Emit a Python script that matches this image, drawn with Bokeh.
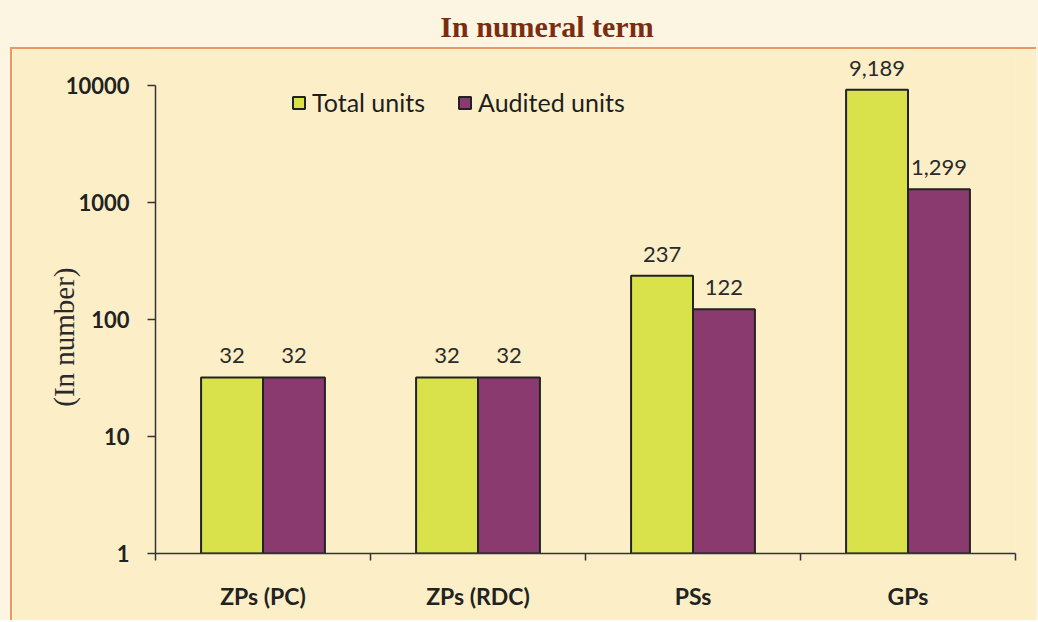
from bokeh.plotting import figure
from bokeh.layouts import column
from bokeh.models import (Range1d, FixedTicker, ColumnDataSource, LabelSet, Legend, LegendItem,
                          NumeralTickFormatter, Div)
from bokeh.core.properties import value
from bokeh.transform import dodge
from bokeh.embed import file_html
from bokeh.resources import INLINE

# ---- data ----
categories = ["ZPs (PC)", "ZPs (RDC)", "PSs", "GPs"]
total_units = [32, 32, 237, 9189]
audited_units = [32, 32, 122, 1299]
y_ticks = [1, 10, 100, 1000, 10000]
title_text = "In numeral term"
y_label = "(In number)"

GREEN = "#D9E14B"
PURPLE = "#8B3A70"
PAGE = "#FBF5E2"
BOX = "#FCEFC8"
ORANGE = "#EE9660"

xs = [i + 0.5 for i in range(len(categories))]
src = ColumnDataSource(dict(
    x=xs,
    total=total_units,
    audited=audited_units,
    total_lbl=[f"{v:,}" for v in total_units],
    audited_lbl=[f"{v:,}" for v in audited_units],
))

TOTAL_W, TOTAL_H = 1038, 622
HEAD_H = 47
LEFT_M = 10
PW = TOTAL_W - LEFT_M - 2
PH = TOTAL_H - HEAD_H - 2

header = Div(
    text=(f'<div style="width:{TOTAL_W}px;height:{HEAD_H}px;box-sizing:border-box;padding-left:56px;'
          f'padding-top:12px;text-align:center;line-height:30px;font-family:\'Liberation Serif\';'
          f'font-weight:bold;font-size:30px;color:#7A2D10;">{title_text}</div>'),
    width=TOTAL_W, height=HEAD_H, styles={"background-color": PAGE}, margin=0)

# frame: top at page y 55, 10000 at page y 85, value 1 at page y 553
p = figure(width=PW, height=PH, output_backend="svg", toolbar_location=None,
           x_range=Range1d(0, len(categories)), y_range=Range1d(1, 10 ** 4.256),
           y_axis_type="log",
           min_border_left=155 - LEFT_M - 2, min_border_right=(LEFT_M + 2 + PW) - 1015,
           min_border_top=55 - HEAD_H - 2, min_border_bottom=(HEAD_H + 2 + PH) - 553)

p.border_fill_color = BOX
p.background_fill_color = BOX
p.outline_line_color = None
p.xgrid.visible = False
p.ygrid.visible = False
p.margin = (0, 0, 0, LEFT_M)
p.styles = {"border-top": f"2px solid {ORANGE}", "border-left": f"2px solid {ORANGE}"}

bw = 0.288
r1 = p.vbar(x=dodge("x", -bw / 2, range=p.x_range), top="total", bottom=1, width=bw, source=src,
            fill_color=GREEN, line_color="#222222", line_width=2)
r2 = p.vbar(x=dodge("x", bw / 2, range=p.x_range), top="audited", bottom=1, width=bw, source=src,
            fill_color=PURPLE, line_color="#222222", line_width=2)

lab_kw = dict(text_font=value("Lato"), text_font_size="22px", text_color="#2A2A2A",
              text_align="center", text_baseline="bottom", y_offset=14)
p.add_layout(LabelSet(x=dodge("x", -bw / 2, range=p.x_range), y="total", text="total_lbl",
                      source=src, **lab_kw))
p.add_layout(LabelSet(x=dodge("x", bw / 2, range=p.x_range), y="audited", text="audited_lbl",
                      source=src, **lab_kw))

# axes
xa = p.xaxis[0]
xa.ticker = FixedTicker(ticks=xs, minor_ticks=list(range(len(categories) + 1)))
xa.major_label_overrides = {x: c for x, c in zip(xs, categories)}
xa.major_tick_line_color = None
xa.minor_tick_line_color = "#333333"
xa.minor_tick_line_width = 1.5
xa.minor_tick_out = 7
xa.minor_tick_in = 0
xa.axis_line_color = "#333333"
xa.axis_line_width = 1.5
xa.major_label_text_font = "Lato"
xa.major_label_text_font_style = "bold"
xa.major_label_text_font_size = "23px"
xa.major_label_text_color = "#222222"
xa.major_label_standoff = 21

ya = p.yaxis[0]
ya.ticker = FixedTicker(ticks=y_ticks)
ya.formatter = NumeralTickFormatter(format="0")
ya.bounds = (1, 10000)
ya.minor_tick_line_color = None
ya.major_tick_line_color = "#333333"
ya.major_tick_line_width = 1.5
ya.major_tick_out = 8
ya.major_tick_in = 0
ya.axis_line_color = "#333333"
ya.axis_line_width = 1.5
ya.major_label_text_font = "Lato"
ya.major_label_text_font_style = "bold"
ya.major_label_text_font_size = "22px"
ya.major_label_text_color = "#222222"
ya.major_label_standoff = 18
ya.axis_label = y_label + "\u00a0" * 9
ya.axis_label_text_font = "Liberation Serif"
ya.axis_label_text_font_style = "normal"
ya.axis_label_text_font_size = "29px"
ya.axis_label_text_color = "#2A2A2A"
ya.axis_label_standoff = -17

legend = Legend(items=[LegendItem(label="Total units", renderers=[r1]),
                       LegendItem(label="Audited units", renderers=[r2])],
                orientation="horizontal", location=(136, 436),
                background_fill_alpha=0, border_line_color=None,
                label_text_font="Lato", label_text_font_size="25px", label_text_color="#1E1E1E",
                glyph_width=15, glyph_height=15, label_standoff=6, spacing=32, padding=0, margin=0)
p.add_layout(legend)

layout = column(header, p, spacing=0, styles={"background-color": PAGE})

open("out.html", "w").write(file_html(layout, INLINE))
